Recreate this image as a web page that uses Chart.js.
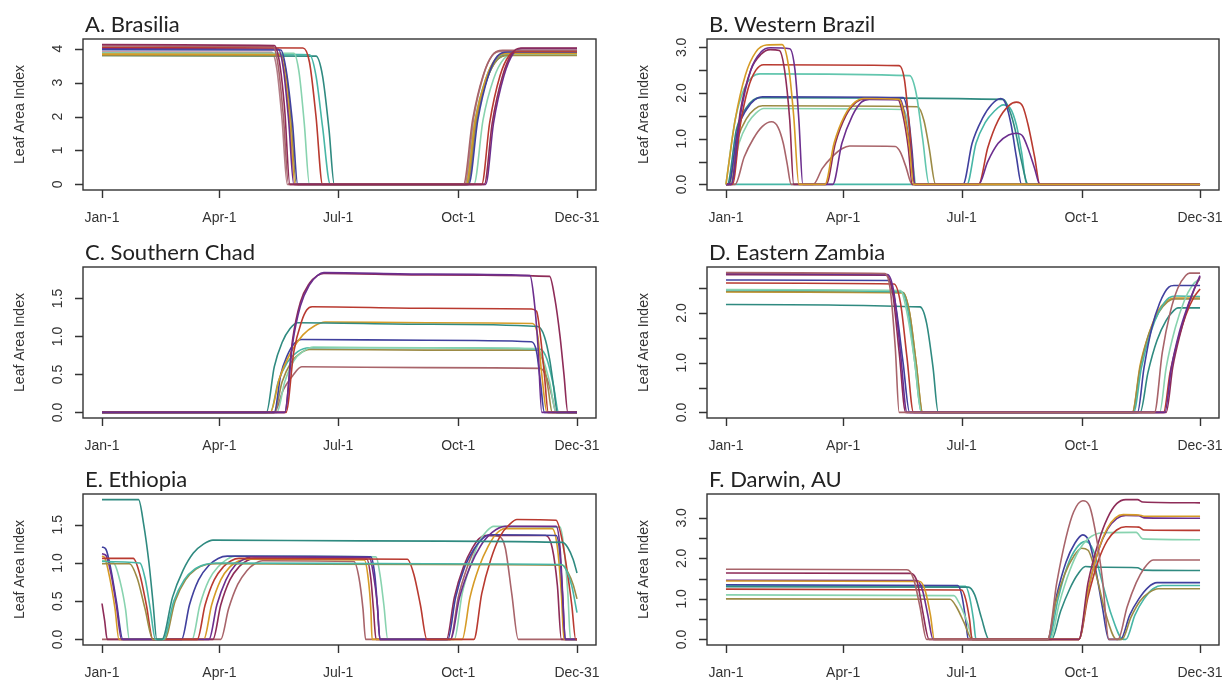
<!DOCTYPE html>
<html>
<head>
<meta charset="utf-8">
<script src="https://cdn.jsdelivr.net/npm/chart.js@4.4.1/dist/chart.umd.min.js"></script>
<style>
  body{margin:0;background:#fff;}
  #wrap{position:relative;width:1228px;height:683px;background:#fff;}
  #wrap canvas{position:absolute;}
</style>
</head>
<body>
<div id="wrap"></div>
<script>
// x axis: day of year
const dayTicks = [1, 91, 182, 274, 365];
const dayLabels = ["Jan-1","Apr-1","Jul-1","Oct-1","Dec-31"];
const panelTitles = ["A. Brasilia","B. Western Brazil","C. Southern Chad","D. Eastern Zambia","E. Ethiopia","F. Darwin, AU"];
const yAxisTitle = "Leaf Area Index";

// y ticks per panel
const ticksA = [0,1,2,3,4],              labelsA = ["0","1","2","3","4"];
const ticksB = [0,0.5,1,1.5,2,2.5,3],    labelsB = ["0.0","","1.0","","2.0","","3.0"];
const ticksC = [0,0.5,1,1.5],            labelsC = ["0.0","0.5","1.0","1.5"];
const ticksD = [0,0.5,1,1.5,2,2.5],      labelsD = ["0.0","","1.0","","2.0",""];
const ticksE = [0,0.5,1,1.5],            labelsE = ["0.0","0.5","1.0","1.5"];
const ticksF = [0,0.5,1,1.5,2,2.5,3],    labelsF = ["0.0","","1.0","","2.0","","3.0"];

// colours
const maroon="#8E2C58", red="#B93A30", rose="#A8646A", pink="#B47E88", purple="#6C2E8E",
      indigo="#40409E", gold="#D69B26", olive="#9C8B45", mint="#88D3AF", teal="#47B6A6", dteal="#2F8A80";

// A. Brasilia  [day, LAI]
const brasiliaColors = [maroon, rose, red, indigo, purple, gold, olive, mint, teal, dteal, pink];
const brasilia = [
  [[1,4.12],[133,4.09],[137,3.6],[141,2.2],[145,0],[294,0],[300,1.8],[308,3.2],[315,3.85],[322,4.02],[365,4.02]],
  [[1,4.08],[132,4.06],[136,3.5],[140,2.0],[144,0],[278,0],[285,1.9],[293,3.2],[300,3.8],[308,3.95],[365,3.95]],
  [[1,4.04],[155,4.02],[160,3.6],[165,2.0],[170,0],[292,0],[298,1.8],[306,3.2],[313,3.8],[320,3.92],[365,3.92]],
  [[1,3.97],[138,3.96],[142,3.4],[147,1.8],[151,0],[282,0],[289,1.9],[297,3.2],[304,3.78],[312,3.9],[365,3.9]],
  [[1,4.0],[136,3.99],[140,3.4],[144,1.9],[148,0],[295,0],[301,1.8],[309,3.2],[316,3.85],[323,4.0],[365,4.0]],
  [[1,3.84],[137,3.83],[141,3.3],[145,1.8],[149,0],[280,0],[287,1.9],[295,3.1],[303,3.72],[312,3.86],[365,3.86]],
  [[1,3.8],[138,3.79],[142,3.3],[146,1.8],[150,0],[281,0],[288,1.9],[296,3.1],[304,3.68],[312,3.8],[365,3.8]],
  [[1,3.87],[148,3.86],[152,3.3],[156,1.8],[160,0],[286,0],[293,1.9],[301,3.1],[309,3.7],[318,3.84],[365,3.84]],
  [[1,3.86],[160,3.82],[165,3.2],[170,1.7],[176,0],[280,0],[287,1.9],[295,3.1],[303,3.7],[314,3.86],[365,3.86]],
  [[1,3.8],[165,3.78],[170,3.2],[175,1.6],[179,0],[281,0],[288,1.9],[296,3.1],[304,3.68],[314,3.82],[365,3.82]],
  [[1,3.9],[131,3.89],[135,3.4],[139,1.9],[143,0],[279,0],[286,2.0],[294,3.3],[300,3.8],[306,3.92],[365,3.92]]
];

// B. Western Brazil
const westBrazilColors = [gold, purple, maroon, red, "#62C6AE", indigo, dteal, olive, mint, rose, teal];
const westBrazil = [
  [[1,0],[8,1.4],[16,2.4],[24,2.9],[32,3.05],[44,3.06],[49,2.6],[53,1.5],[57,0],[77,0],[84,0.9],[92,1.5],[100,1.8],[107,1.88],[134,1.86],[138,1.5],[142,0.8],[145,0],[365,0]],
  [[1,0],[5,0],[12,1.5],[20,2.5],[28,2.9],[35,2.99],[50,2.97],[54,2.5],[57,1.4],[60,0],[83,0],[90,0.9],[98,1.5],[105,1.8],[111,1.86],[135,1.85],[139,1.4],[143,0.7],[146,0],[195,0],[202,0.5],[210,0.9],[218,1.08],[224,1.12],[229,1.05],[234,0.7],[238,0.35],[242,0],[365,0]],
  [[1,0],[5,0],[12,1.6],[20,2.5],[28,2.85],[35,2.95],[42,2.93],[46,2.5],[50,1.4],[53,0],[78,0],[85,0.9],[93,1.5],[101,1.8],[108,1.87],[133,1.86],[137,1.5],[141,0.8],[144,0],[365,0]],
  [[1,0],[6,0],[12,1.3],[18,2.1],[24,2.5],[30,2.62],[134,2.6],[138,2.3],[142,1.2],[146,0],[195,0],[202,0.8],[210,1.4],[218,1.72],[224,1.8],[229,1.7],[233,1.3],[238,0.6],[242,0],[365,0]],
  [[1,0],[8,1.4],[15,2.1],[21,2.35],[27,2.42],[142,2.38],[147,2.0],[152,1.0],[157,0],[365,0]],
  [[1,0],[3,0],[10,1.2],[17,1.65],[23,1.85],[29,1.92],[137,1.9],[141,1.5],[144,0.7],[146,0],[183,0],[190,0.9],[198,1.45],[205,1.75],[212,1.88],[216,1.75],[220,1.3],[224,0.6],[228,0],[365,0]],
  [[1,0],[2,0],[9,1.2],[16,1.65],[22,1.85],[28,1.9],[214,1.86],[219,1.6],[223,1.2],[228,0.5],[233,0],[365,0]],
  [[1,0],[3,0],[10,1.0],[17,1.45],[23,1.65],[29,1.72],[148,1.7],[153,1.4],[157,0.8],[162,0],[365,0]],
  [[1,0],[4,0],[11,0.9],[18,1.35],[24,1.56],[30,1.66],[137,1.64],[141,1.3],[144,0.6],[147,0],[365,0]],
  [[1,0],[8,0],[15,0.6],[22,1.0],[29,1.27],[36,1.37],[41,1.25],[45,0.9],[48,0.45],[51,0],[68,0],[75,0.35],[83,0.62],[90,0.78],[96,0.84],[131,0.83],[135,0.7],[139,0.4],[144,0],[365,0]],
  [[1,0],[186,0],[193,0.9],[200,1.35],[207,1.6],[214,1.74],[219,1.68],[224,1.3],[228,0.7],[232,0],[365,0]]
];

// C. Southern Chad
const chadColors = [purple, maroon, red, dteal, gold, indigo, mint, teal, olive, rose];
const chad = [
  [[1,0],[141,0],[147,0.9],[153,1.4],[160,1.68],[166,1.8],[171,1.84],[250,1.82],[329,1.8],[332,1.5],[335,0.9],[338,0],[365,0]],
  [[1,0],[141,0],[147,0.95],[153,1.45],[160,1.7],[166,1.8],[171,1.83],[250,1.81],[344,1.79],[348,1.5],[352,1.0],[355,0.5],[358,0],[365,0]],
  [[1,0],[142,0],[148,0.8],[154,1.2],[158,1.35],[162,1.39],[250,1.37],[330,1.36],[334,1.33],[337,1.0],[340,0.5],[343,0],[365,0]],
  [[1,0],[127,0],[133,0.6],[139,0.92],[145,1.1],[151,1.18],[250,1.16],[335,1.13],[340,1.0],[344,0.7],[347,0.35],[350,0],[365,0]],
  [[1,0],[130,0],[137,0.45],[146,0.8],[155,1.02],[164,1.14],[172,1.19],[250,1.18],[331,1.17],[335,1.0],[338,0.5],[342,0],[365,0]],
  [[1,0],[133,0],[138,0.5],[143,0.75],[148,0.9],[154,0.96],[250,0.95],[330,0.93],[334,0.8],[337,0.4],[340,0],[365,0]],
  [[1,0],[135,0],[141,0.4],[148,0.68],[155,0.8],[163,0.86],[250,0.85],[334,0.84],[339,0.7],[344,0.4],[349,0],[365,0]],
  [[1,0],[130,0],[136,0.4],[143,0.66],[151,0.8],[160,0.85],[250,0.85],[337,0.83],[342,0.7],[347,0.35],[351,0],[365,0]],
  [[1,0],[133,0],[139,0.4],[146,0.66],[153,0.78],[160,0.83],[250,0.82],[335,0.82],[340,0.6],[343,0.3],[346,0],[365,0]],
  [[1,0],[133,0],[140,0.3],[147,0.48],[154,0.6],[250,0.59],[337,0.58],[342,0.45],[346,0.2],[349,0],[365,0]]
];

// D. Eastern Zambia
const zambiaColors = [rose, purple, maroon, indigo, red, mint, teal, olive, gold, dteal];
const zambia = [
  [[1,2.81],[123,2.79],[127,2.5],[131,1.3],[134,0],[330,0],[336,1.2],[342,2.0],[348,2.5],[354,2.75],[357,2.8],[365,2.8]],
  [[1,2.79],[125,2.77],[130,2.4],[135,1.2],[140,0],[338,0],[343,0.9],[349,1.6],[355,2.1],[360,2.45],[365,2.75]],
  [[1,2.77],[124,2.76],[129,2.4],[134,1.2],[139,0],[339,0],[344,0.9],[350,1.6],[356,2.15],[361,2.5],[365,2.72]],
  [[1,2.66],[126,2.65],[131,2.2],[137,1.0],[142,0],[317,0],[322,0.9],[328,1.7],[334,2.2],[341,2.52],[345,2.55],[365,2.55]],
  [[1,2.6],[130,2.58],[135,2.2],[140,1.1],[145,0],[337,0],[342,0.8],[348,1.45],[354,1.95],[360,2.3],[365,2.48]],
  [[1,2.47],[135,2.45],[140,2.0],[146,1.0],[151,0],[334,0],[339,0.9],[346,1.7],[353,2.25],[359,2.55],[363,2.65],[365,2.66]],
  [[1,2.46],[136,2.42],[141,2.0],[146,1.0],[151,0],[314,0],[320,0.9],[327,1.6],[334,2.05],[341,2.3],[347,2.34],[365,2.33]],
  [[1,2.43],[137,2.41],[142,2.0],[147,1.0],[152,0],[313,0],[319,0.9],[326,1.6],[333,2.0],[340,2.22],[345,2.28],[365,2.28]],
  [[1,2.42],[137,2.4],[142,2.0],[147,1.0],[152,0],[313,0],[319,0.95],[326,1.6],[333,2.05],[340,2.25],[345,2.3],[365,2.3]],
  [[1,2.17],[150,2.12],[155,1.8],[160,0.9],[164,0],[319,0],[325,0.8],[332,1.45],[339,1.85],[345,2.05],[348,2.1],[365,2.1]]
];

// E. Ethiopia
const ethiopiaColors = [dteal, teal, olive, red, purple, indigo, gold, mint, maroon, rose];
const ethiopia = [
  [[1,1.83],[29,1.83],[33,1.5],[37,1.0],[40,0.5],[43,0],[47,0],[55,0.55],[63,0.9],[71,1.13],[79,1.25],[86,1.3],[200,1.29],[354,1.27],[358,1.2],[362,1.05],[365,0.87]],
  [[1,1.02],[30,1.0],[34,0.8],[38,0.4],[42,0],[48,0],[56,0.5],[64,0.78],[72,0.92],[80,0.98],[88,1.0],[250,0.99],[353,0.98],[357,0.9],[361,0.7],[365,0.35]],
  [[1,0.99],[22,0.99],[28,0.8],[34,0.4],[40,0],[49,0],[57,0.5],[65,0.78],[73,0.92],[81,0.98],[89,0.99],[250,0.98],[354,0.97],[358,0.88],[362,0.72],[365,0.53]],
  [[1,1.06],[25,1.06],[30,0.85],[35,0.45],[40,0],[74,0],[80,0.45],[87,0.78],[94,0.95],[100,1.03],[106,1.06],[235,1.05],[240,0.85],[245,0.45],[250,0],[286,0],[292,0.6],[299,1.05],[306,1.35],[313,1.5],[319,1.57],[349,1.56],[353,1.35],[357,0.95],[361,0.45],[364,0],[365,0]],
  [[1,1.12],[4,1.1],[8,0.85],[12,0.45],[16,0],[83,0],[89,0.45],[96,0.78],[103,0.97],[110,1.05],[115,1.08],[206,1.07],[209,0.85],[212,0.45],[214,0],[268,0],[275,0.55],[283,0.95],[291,1.22],[300,1.4],[310,1.48],[349,1.48],[352,1.2],[354,0.6],[356,0],[365,0]],
  [[1,1.21],[4,1.18],[8,0.9],[12,0.5],[17,0],[62,0],[68,0.45],[75,0.78],[83,0.97],[90,1.06],[97,1.09],[207,1.08],[210,0.85],[212,0.45],[214,0],[266,0],[272,0.55],[279,0.95],[286,1.18],[292,1.31],[298,1.37],[349,1.36],[352,1.1],[354,0.55],[356,0],[365,0]],
  [[1,1.09],[3,1.07],[7,0.8],[11,0.4],[14,0],[79,0],[85,0.45],[92,0.78],[99,0.95],[106,1.03],[112,1.05],[202,1.04],[205,0.8],[207,0.4],[208,0],[277,0],[283,0.55],[290,0.95],[297,1.22],[303,1.38],[310,1.45],[346,1.45],[350,1.2],[353,0.6],[355,0],[365,0]],
  [[1,1.03],[10,1.0],[15,0.75],[19,0.4],[22,0],[70,0],[76,0.45],[83,0.78],[90,0.95],[97,1.05],[103,1.09],[211,1.08],[214,0.85],[217,0.45],[220,0],[271,0],[277,0.6],[284,1.0],[290,1.28],[296,1.42],[301,1.48],[352,1.47],[355,1.2],[358,0.6],[360,0],[365,0]],
  [[1,0.47],[3,0.25],[5,0],[86,0],[92,0.45],[99,0.78],[106,0.95],[112,1.03],[118,1.06],[204,1.05],[207,0.8],[209,0.4],[211,0],[265,0],[271,0.55],[278,0.95],[285,1.2],[290,1.32],[295,1.36],[341,1.36],[346,1.2],[350,0.7],[353,0],[365,0]],
  [[1,0],[92,0],[98,0.4],[105,0.72],[112,0.9],[118,0.99],[124,1.03],[194,1.02],[198,0.8],[201,0.4],[203,0],[268,0],[274,0.55],[281,0.95],[288,1.22],[295,1.36],[305,1.35],[310,1.2],[315,0.6],[320,0],[365,0]]
];

// F. Darwin, AU
const darwinColors = [rose, maroon, gold, purple, red, mint, olive, indigo, dteal, teal];
const darwin = [
  [[1,1.73],[140,1.72],[145,1.5],[150,0.8],[155,0],[248,0],[255,1.4],[262,2.5],[268,3.15],[275,3.42],[280,3.3],[285,2.6],[290,1.5],[295,0],[302,0],[309,0.8],[316,1.4],[322,1.75],[329,1.96],[365,1.96]],
  [[1,1.64],[143,1.63],[148,1.4],[152,0.7],[157,0],[272,0],[279,1.4],[287,2.4],[294,3.0],[301,3.35],[308,3.45],[317,3.45],[321,3.39],[365,3.37]],
  [[1,1.44],[150,1.43],[154,1.2],[158,0.6],[161,0],[272,0],[279,1.2],[287,2.2],[294,2.75],[300,3.0],[306,3.08],[318,3.07],[322,3.04],[365,3.04]],
  [[1,1.46],[148,1.45],[152,1.2],[156,0.6],[160,0],[272,0],[279,1.2],[287,2.2],[294,2.72],[301,2.98],[308,3.06],[318,3.05],[322,3.0],[365,2.99]],
  [[1,1.24],[182,1.22],[185,1.0],[188,0.5],[190,0],[272,0],[279,1.05],[287,1.95],[294,2.45],[301,2.7],[308,2.78],[318,2.77],[322,2.7],[365,2.69]],
  [[1,1.1],[176,1.08],[180,0.9],[186,0.45],[191,0],[250,0],[257,0.9],[265,1.7],[272,2.2],[279,2.48],[290,2.63],[316,2.64],[321,2.48],[365,2.46]],
  [[1,1.0],[173,0.99],[178,0.8],[184,0.4],[190,0],[248,0],[254,0.9],[261,1.6],[268,2.05],[274,2.25],[279,2.2],[286,1.5],[292,0.7],[301,0],[305,0],[312,0.55],[319,0.95],[326,1.16],[333,1.25],[365,1.25]],
  [[1,1.35],[179,1.33],[182,1.1],[185,0.5],[187,0],[248,0],[255,1.1],[262,1.9],[269,2.38],[275,2.58],[280,2.4],[285,1.7],[290,0.8],[295,0],[304,0],[311,0.6],[318,1.0],[325,1.28],[332,1.4],[365,1.4]],
  [[1,1.3],[187,1.29],[192,1.1],[197,0.55],[203,0],[251,0],[258,0.7],[265,1.25],[271,1.6],[277,1.8],[285,1.78],[317,1.77],[321,1.71],[365,1.7]],
  [[1,1.33],[185,1.31],[188,1.05],[191,0.5],[193,0],[249,0],[256,1.0],[263,1.8],[270,2.25],[277,2.42],[283,2.2],[290,1.4],[297,0.6],[306,0],[308,0],[315,0.6],[322,1.0],[329,1.25],[336,1.33],[365,1.33]]
];

const panels = [
  {title: panelTitles[0], series: brasilia,   colors: brasiliaColors,   ticks: ticksA, labels: labelsA, col: 0, row: 0},
  {title: panelTitles[1], series: westBrazil, colors: westBrazilColors, ticks: ticksB, labels: labelsB, col: 1, row: 0},
  {title: panelTitles[2], series: chad,       colors: chadColors,       ticks: ticksC, labels: labelsC, col: 0, row: 1},
  {title: panelTitles[3], series: zambia,     colors: zambiaColors,     ticks: ticksD, labels: labelsD, col: 1, row: 1},
  {title: panelTitles[4], series: ethiopia,   colors: ethiopiaColors,   ticks: ticksE, labels: labelsE, col: 0, row: 2},
  {title: panelTitles[5], series: darwin,     colors: darwinColors,     ticks: ticksF, labels: labelsF, col: 1, row: 2}
];

// R-style axes, box and titles drawn on top of chart area
const rAxes = {
  id: 'rAxes',
  afterDraw(chart, args, opts){
    const ctx = chart.ctx, a = chart.chartArea, xs = chart.scales.x, ys = chart.scales.y;
    ctx.save();
    ctx.strokeStyle = '#333'; ctx.lineWidth = 1.4;
    ctx.strokeRect(a.left, a.top, a.right - a.left, a.bottom - a.top);
    ctx.beginPath();
    dayTicks.forEach(v => { const px = Math.round(xs.getPixelForValue(v)) + 0.5; ctx.moveTo(px, a.bottom); ctx.lineTo(px, a.bottom + 8); });
    opts.ticks.forEach(v => { const py = Math.round(ys.getPixelForValue(v)) + 0.5; ctx.moveTo(a.left, py); ctx.lineTo(a.left - 8, py); });
    ctx.stroke();
    ctx.fillStyle = '#333';
    ctx.font = '14px "Liberation Sans", Arial, sans-serif';
    ctx.textAlign = 'center'; ctx.textBaseline = 'middle';
    dayTicks.forEach((v, i) => ctx.fillText(dayLabels[i], xs.getPixelForValue(v), a.bottom + 28));
    opts.ticks.forEach((v, i) => {
      if (!opts.labels[i]) return;
      ctx.save();
      ctx.translate(a.left - 25, ys.getPixelForValue(v));
      ctx.rotate(-Math.PI / 2);
      ctx.fillText(opts.labels[i], 0, 0);
      ctx.restore();
    });
    ctx.save();
    ctx.translate(a.left - 63, (a.top + a.bottom) / 2);
    ctx.rotate(-Math.PI / 2);
    ctx.fillText(yAxisTitle, 0, 0);
    ctx.restore();
    ctx.fillStyle = '#222';
    ctx.font = '22px Lato, "Open Sans", sans-serif';
    ctx.textAlign = 'left'; ctx.textBaseline = 'alphabetic';
    ctx.fillText(opts.title, a.left + 2, a.top - 7);
    ctx.restore();
  }
};

const wrap = document.getElementById('wrap');
panels.forEach(p => {
  const cv = document.createElement('canvas');
  const top = [0, 228, 455][p.row];
  cv.width = 614; cv.height = 228;
  cv.style.left = (p.col * 614) + 'px';
  cv.style.top = top + 'px';
  cv.style.width = '614px'; cv.style.height = '228px';
  wrap.appendChild(cv);

  let ymax = 0;
  p.series.forEach(s => s.forEach(pt => { if (pt[1] > ymax) ymax = pt[1]; }));
  const ext = 0.04 * ymax;

  new Chart(cv, {
    type: 'line',
    data: {
      datasets: p.series.map((s, i) => ({
        data: s.map(pt => ({x: pt[0], y: pt[1]})),
        borderColor: p.colors[i],
        borderWidth: 1.6,
        pointRadius: 0,
        fill: false,
        cubicInterpolationMode: 'monotone'
      }))
    },
    options: {
      responsive: false,
      animation: false,
      layout: {padding: p.col === 0 ? {left: 83, right: 18, top: 39, bottom: 38} : {left: 93, right: 9, top: 39, bottom: 38}},
      plugins: {
        legend: {display: false},
        tooltip: {enabled: false},
        rAxes: {ticks: p.ticks, labels: p.labels, title: p.title}
      },
      scales: {
        x: {type: 'linear', display: false, min: 1 - 0.04 * 364, max: 365 + 0.04 * 364},
        y: {type: 'linear', display: false, min: -ext, max: ymax + ext}
      }
    },
    plugins: [rAxes]
  });
});
</script>
</body>
</html>
